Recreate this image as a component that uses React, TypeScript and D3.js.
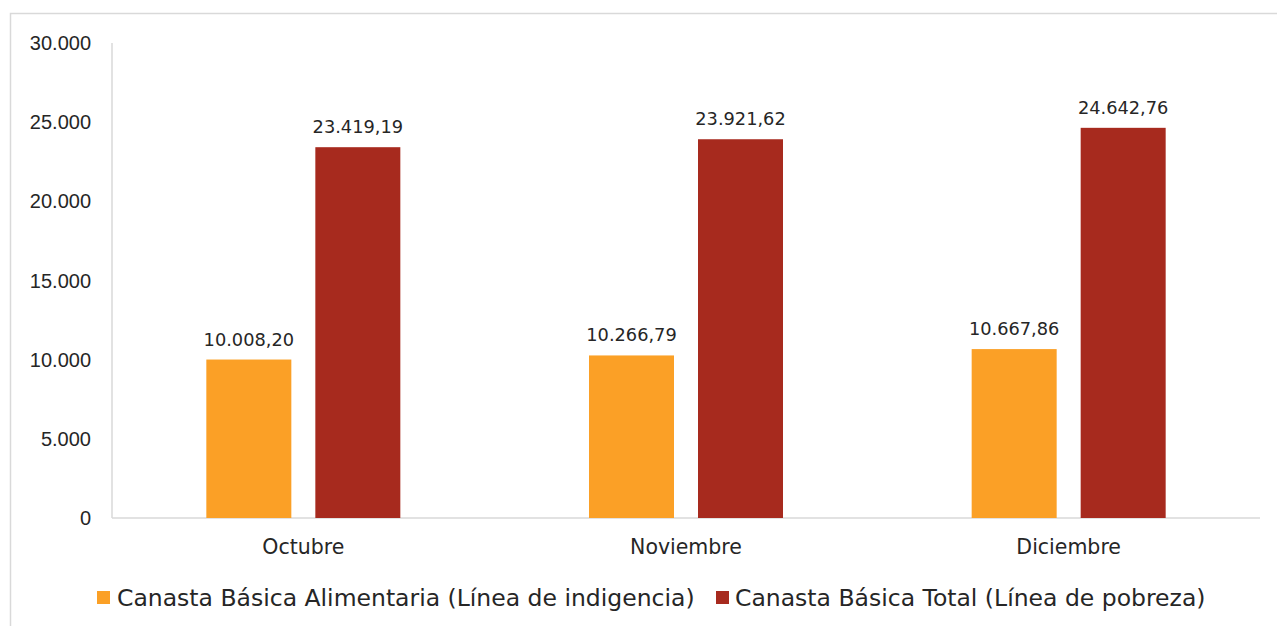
import React from "react";
import * as d3 from "d3";

const categories = ["Octubre", "Noviembre", "Diciembre"];
const seriesNames = [
  "Canasta Básica Alimentaria (Línea de indigencia)",
  "Canasta Básica Total (Línea de pobreza)",
];
const alimentaria = [10008.2, 10266.79, 10667.86];
const total = [23419.19, 23921.62, 24642.76];
const yTicks = [0, 5000, 10000, 15000, 20000, 25000, 30000];
const colors = ["#FBA026", "#A72A1E"];

const W = 1277;
const H = 626;
const left = 112;
const right = 1260;
const top = 43;
const bottom = 518;

const locale = d3.formatLocale({
  decimal: ",",
  thousands: ".",
  grouping: [3],
  currency: ["$", ""],
});
const fmtTick = locale.format(",.0f");
const fmtVal = locale.format(",.2f");

export default function App() {
  const x0 = d3.scaleBand<string>().domain(categories).range([left, right]).paddingInner(0).paddingOuter(0);
  const y = d3.scaleLinear().domain([0, 30000]).range([bottom, top]);
  const barW = 85;
  const gap = 24;
  const series = [alimentaria, total];
  const labelFont = "'DejaVu Sans', sans-serif";

  return (
    <div style={{ position: "absolute", left: 0, top: 0 }}>
      <svg width={W} height={H} style={{ display: "block", background: "#fff" }}>
        <rect x={10.5} y={13.5} width={W + 20} height={H + 20} fill="none" stroke="#D9D9D9" strokeWidth={1.5} />
        {yTicks.map((t) => (
          <text
            key={t}
            x={91}
            y={y(t)}
            dy="0.35em"
            textAnchor="end"
            fontFamily="'Liberation Sans', Arial, sans-serif"
            fontSize={20}
            fill="#262626"
          >
            {fmtTick(t)}
          </text>
        ))}
        <line x1={left} x2={left} y1={top} y2={bottom} stroke="#D9D9D9" strokeWidth={1.5} />
        <line x1={left} x2={right} y1={bottom} y2={bottom} stroke="#D9D9D9" strokeWidth={1.5} />
        {categories.map((c, ci) => {
          const cx = (x0(c) as number) + x0.bandwidth() / 2;
          return (
            <g key={c}>
              {series.map((s, si) => {
                const bx = si === 0 ? cx - gap / 2 - barW : cx + gap / 2;
                const v = s[ci];
                return (
                  <g key={si}>
                    <rect x={bx} y={y(v)} width={barW} height={bottom - y(v)} fill={colors[si]} />
                    <text
                      x={bx + barW / 2}
                      y={y(v) - 14}
                      textAnchor="middle"
                      fontFamily={labelFont}
                      fontSize={17.8}
                      fill="#262626"
                    >
                      {fmtVal(v)}
                    </text>
                  </g>
                );
              })}
              <text x={cx} y={554} textAnchor="middle" fontFamily={labelFont} fontSize={20.5} fill="#262626">
                {c}
              </text>
            </g>
          );
        })}
        <g>
          <rect x={97} y={591} width={13} height={13} fill={colors[0]} />
          <text x={117} y={606} fontFamily={labelFont} fontSize={23.5} fill="#262626">
            {seriesNames[0]}
          </text>
          <rect x={716} y={591} width={13} height={13} fill={colors[1]} />
          <text x={735} y={606} fontFamily={labelFont} fontSize={23.5} fill="#262626">
            {seriesNames[1]}
          </text>
        </g>
      </svg>
    </div>
  );
}
